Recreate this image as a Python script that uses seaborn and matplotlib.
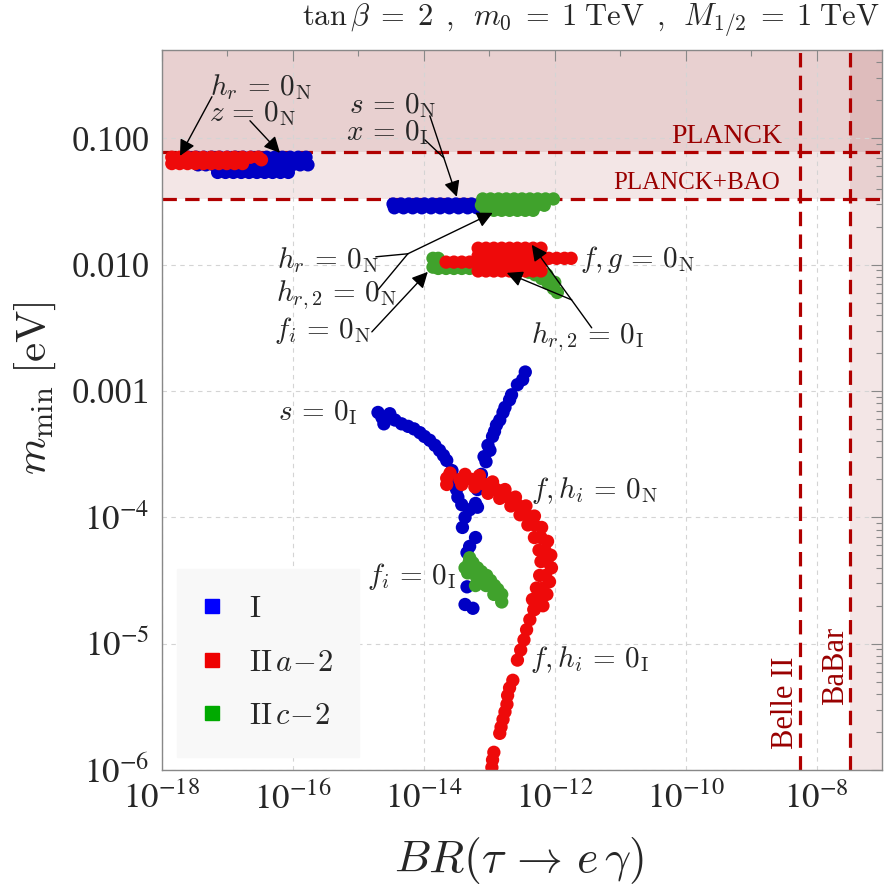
import numpy as np
import pandas as pd
import matplotlib
matplotlib.use("Agg")
import matplotlib.pyplot as plt
import seaborn as sns
from matplotlib.lines import Line2D
from matplotlib.ticker import FixedLocator, LogLocator, NullFormatter

sns.set_style("white")
plt.rcParams["font.family"] = ["Liberation Serif", "DejaVu Serif"]
plt.rcParams["mathtext.fontset"] = "stix"

# ---------------- data (log10 values) ----------------
# Model I (blue)
I_log_br = [
    # h_r / z = 0_N blob
    -17.60, -17.48, -17.36, -17.24, -17.12, -17.00, -16.88, -16.76, -16.64, -16.52, -16.40, -16.28, -16.16, -16.04, -15.92, -15.80,
    -17.45, -17.33, -17.21, -17.09, -16.97, -16.85, -16.73, -16.61, -16.49, -16.37, -16.25, -16.13, -16.01, -15.89, -15.77,
    -17.15, -17.03, -16.91, -16.79, -16.67, -16.55, -16.43, -16.31, -16.19, -16.07,
    # s = 0_N strip
    -14.47, -14.35, -14.23, -14.11, -13.99, -13.87, -13.75, -13.63, -13.51, -13.39, -13.27, -13.15,
    -14.45, -14.31, -14.17, -14.03, -13.89, -13.75, -13.61, -13.47, -13.33, -13.19,
    # s = 0_I arm
    -14.70, -14.64, -14.61, -14.52, -14.44, -14.34, -14.24, -14.15, -14.06, -13.99, -13.91, -13.83, -13.76, -13.70, -13.65, -13.57, -13.53, -13.50,
    -13.48, -13.42, -13.30, -13.18, -13.37, -13.41, -13.21, -13.30, -13.34, -13.34, -13.37, -13.25,
    # rising arm
    -12.45, -12.49, -12.57, -12.66, -12.69, -12.76, -12.79, -12.84, -12.89, -12.92, -12.95, -13.02, -12.99, -13.08, -13.05, -13.12, -13.18, -13.21,
]
I_log_m = [
    -1.15, -1.15, -1.15, -1.15, -1.15, -1.15, -1.15, -1.15, -1.15, -1.15, -1.15, -1.15, -1.15, -1.15, -1.15, -1.15,
    -1.21, -1.21, -1.21, -1.21, -1.21, -1.21, -1.21, -1.21, -1.21, -1.21, -1.21, -1.21, -1.21, -1.21, -1.21,
    -1.27, -1.27, -1.27, -1.27, -1.27, -1.27, -1.27, -1.27, -1.27, -1.27,
    -1.52, -1.52, -1.52, -1.52, -1.52, -1.52, -1.52, -1.52, -1.52, -1.52, -1.52, -1.52,
    -1.55, -1.55, -1.55, -1.55, -1.55, -1.55, -1.55, -1.55, -1.55, -1.55,
    -3.17, -3.21, -3.26, -3.18, -3.23, -3.26, -3.28, -3.30, -3.33, -3.36, -3.39, -3.43, -3.47, -3.51, -3.55, -3.63, -3.70, -3.78,
    -3.84, -3.90, -3.94, -3.92, -4.00, -4.08, -4.16, -4.23, -4.28, -4.55, -4.69, -4.72,
    -2.85, -2.91, -2.95, -3.03, -3.07, -3.13, -3.17, -3.23, -3.27, -3.32, -3.36, -3.43, -3.47, -3.52, -3.56, -3.66, -3.78, -3.89,
]

# Model II c-2 (green)
IIc_log_br = [
    -13.10, -12.98, -12.86, -12.74, -12.62, -12.50, -12.38, -12.26, -12.14, -12.02,
    -13.12, -13.00, -12.88, -12.76, -12.64, -12.52, -12.40, -12.28, -12.16,
    -13.05, -12.93, -12.81, -12.69, -12.57, -12.45, -12.33,
    -13.86, -13.86, -13.78, -13.78,
    -13.66, -13.54, -13.42, -13.30, -13.18, -13.06, -12.94, -12.82, -12.70, -12.58, -12.46,
    -12.40, -12.30, -12.20, -12.10, -12.02, -11.96, -12.25, -12.12, -12.00,
    -13.30, -13.31, -13.33, -13.37, -13.18, -13.19, -13.04, -13.05, -13.21, -12.92, -12.93, -12.81, -12.81,
    -13.25, -13.12, -12.98, -12.87,
]
IIc_log_m = [
    -1.48, -1.48, -1.48, -1.48, -1.48, -1.48, -1.48, -1.48, -1.48, -1.48,
    -1.53, -1.53, -1.53, -1.53, -1.53, -1.53, -1.53, -1.53, -1.53,
    -1.57, -1.57, -1.57, -1.57, -1.57, -1.57, -1.57,
    -1.95, -2.02, -1.95, -2.03,
    -2.03, -2.03, -2.03, -2.03, -2.03, -2.03, -2.03, -2.03, -2.03, -2.03, -2.03,
    -2.06, -2.08, -2.11, -2.15, -2.19, -2.22, -2.04, -2.08, -2.14,
    -4.32, -4.36, -4.44, -4.40, -4.40, -4.48, -4.46, -4.54, -4.54, -4.54, -4.61, -4.61, -4.67,
    -4.36, -4.43, -4.50, -4.57,
]

# Model II a-2 (red)
IIa_log_br = [
    -17.85, -17.73, -17.61, -17.49, -17.37, -17.25, -17.13, -17.01, -16.89, -16.77, -16.65, -16.53,
    -17.85, -17.73, -17.61, -17.49, -17.37, -17.25, -17.13, -17.01, -16.89, -16.77, -16.48,
    -13.66, -13.54, -13.42, -13.30,
    -13.17, -13.05, -12.93, -12.81, -12.69, -12.57, -12.45, -12.33, -12.21,
    -13.17, -13.05, -12.93, -12.81, -12.69, -12.57, -12.45, -12.33, -12.21,
    -13.17, -13.05, -12.93, -12.81, -12.69, -12.57, -12.45, -12.33, -12.21,
    -13.17, -13.05, -12.93, -12.81, -12.69, -12.57, -12.45, -12.33, -12.21,
    -12.09, -11.97, -11.85, -11.75,
    -13.65, -13.45, -13.27, -13.07, -12.89, -12.72, -12.57, -12.43, -12.31, -12.21, -12.15, -12.12, -12.14, -12.18, -12.24, -12.31,
    -13.60, -13.37, -13.15, -12.95, -12.76, -12.60, -12.44, -12.31, -12.20, -12.11, -12.06, -12.05, -12.08, -12.12, -12.18,
    -13.65, -13.42, -13.22, -13.02, -12.84, -12.67, -12.53, -12.41, -12.31, -12.24, -12.21, -12.23, -12.28, -12.34,
    -12.32, -12.38, -12.43, -12.47, -12.52, -12.57, -12.64, -12.69, -12.72, -12.73, -12.76, -12.79, -12.82, -12.84, -12.93, -12.95, -12.96,
]
IIa_log_m = [
    -1.15, -1.15, -1.15, -1.15, -1.15, -1.15, -1.15, -1.15, -1.15, -1.15, -1.15, -1.15,
    -1.20, -1.20, -1.20, -1.20, -1.20, -1.20, -1.20, -1.20, -1.20, -1.20, -1.17,
    -1.98, -1.98, -1.98, -1.98,
    -1.87, -1.87, -1.87, -1.87, -1.87, -1.87, -1.87, -1.87, -1.87,
    -1.93, -1.93, -1.93, -1.93, -1.93, -1.93, -1.93, -1.93, -1.93,
    -1.99, -1.99, -1.99, -1.99, -1.99, -1.99, -1.99, -1.99, -1.99,
    -2.05, -2.05, -2.05, -2.05, -2.05, -2.05, -2.05, -2.05, -2.05,
    -1.95, -1.95, -1.95, -1.95,
    -3.69, -3.70, -3.70, -3.74, -3.78, -3.84, -3.90, -3.98, -4.06, -4.16, -4.26, -4.35, -4.46, -4.56, -4.65, -4.73,
    -3.65, -3.66, -3.67, -3.72, -3.78, -3.84, -3.91, -3.99, -4.08, -4.19, -4.30, -4.40, -4.51, -4.61, -4.70,
    -3.74, -3.74, -3.76, -3.81, -3.85, -3.91, -3.98, -4.06, -4.16, -4.26, -4.35, -4.46, -4.56, -4.65,
    -4.73, -4.81, -4.89, -4.97, -5.05, -5.13, -5.29, -5.35, -5.41, -5.48, -5.54, -5.60, -5.66, -5.71, -5.86, -5.92, -5.98,
]

models = ["I", "II a-2", "II c-2"]
legend_labels = [r"$\mathrm{I}$", r"$\mathrm{II}\,a\!-\!2$", r"$\mathrm{II}\,c\!-\!2$"]
point_colors = {"I": "#0000C4", "II a-2": "#EE0A0A", "II c-2": "#40A22C"}
legend_colors = ["#0000FF", "#EE0000", "#00AA00"]

# experimental bounds
planck = 0.0785
planck_bao = 0.0332
belle2 = 5.5e-9
babar = 3.2e-8

xtick_vals = [1e-18, 1e-16, 1e-14, 1e-12, 1e-10, 1e-8]
xtick_labels = [r"$10^{-18}$", r"$10^{-16}$", r"$10^{-14}$", r"$10^{-12}$", r"$10^{-10}$", r"$10^{-8}$"]
ytick_vals = [1e-6, 1e-5, 1e-4, 1e-3, 1e-2, 1e-1]
ytick_labels = [r"$10^{-6}$", r"$10^{-5}$", r"$10^{-4}$", "0.001", "0.010", "0.100"]

# ---------------- table ----------------
frames = []
for name, lx, ly in [("I", I_log_br, I_log_m), ("II c-2", IIc_log_br, IIc_log_m), ("II a-2", IIa_log_br, IIa_log_m)]:
    frames.append(pd.DataFrame({"BR": np.power(10.0, np.array(lx)),
                                "mmin": np.power(10.0, np.array(ly)),
                                "model": name}))
df = pd.concat(frames, ignore_index=True)

# ---------------- figure ----------------
fig = plt.figure(figsize=(8.92, 8.92), dpi=100)
ax = fig.add_axes([162 / 892, 1 - 770 / 892, 720 / 892, 720 / 892])
ax.set_xscale("log")
ax.set_yscale("log")
ax.set_xlim(1e-18, 1e-7)
ax.set_ylim(1e-6, 0.5)

shade = (0.58, 0.12, 0.12)
ax.axhspan(planck_bao, 0.5, color=shade, alpha=0.11, lw=0, zorder=0.5)
ax.axhspan(planck, 0.5, color=shade, alpha=0.11, lw=0, zorder=0.5)
ax.axvspan(babar, 1e-7, color=shade, alpha=0.11, lw=0, zorder=0.5)

dash = (0, (4.5, 2.6))
lc = "#B00000"
for yv in (planck, planck_bao):
    ax.axhline(yv, color=lc, lw=2.3, ls=dash, zorder=1.5)
for xv in (belle2, babar):
    ax.axvline(xv, color=lc, lw=2.3, ls=dash, zorder=1.5)

sns.scatterplot(data=df, x="BR", y="mmin", hue="model", palette=point_colors,
                s=92, linewidth=0, legend=False, ax=ax, zorder=2.5)

# ticks
ax.xaxis.set_major_locator(FixedLocator(xtick_vals))
ax.set_xticklabels(xtick_labels)
ax.xaxis.set_minor_locator(FixedLocator([1e-17, 1e-15, 1e-13, 1e-11, 1e-9]))
ax.xaxis.set_minor_formatter(NullFormatter())
ax.yaxis.set_major_locator(FixedLocator(ytick_vals))
ax.set_yticklabels(ytick_labels)
ax.yaxis.set_minor_locator(LogLocator(base=10, subs=np.arange(2, 10)))
ax.yaxis.set_minor_formatter(NullFormatter())
ax.tick_params(which="both", direction="in", top=True, right=True, color="#888888", width=0.8)
ax.tick_params(which="major", length=8, labelsize=25, pad=9)
ax.tick_params(which="minor", length=4)

ax.grid(True, which="major", ls=(0, (4, 4)), color="#D4D4D4", lw=0.8, zorder=0.8)
for sp in ax.spines.values():
    sp.set_color("#888888")
    sp.set_linewidth(1.0)

# axis labels
ax.set_xlabel(r"$BR(\tau\, \to\, e\,\gamma)$", fontsize=33, math_fontfamily="cm")
ax.xaxis.set_label_coords(0.496, -0.125)
ax.xaxis.label.set_va("center")
ax.set_ylabel(r"$m_{\mathrm{min}}\;[\mathrm{eV}]$", fontsize=31, math_fontfamily="cm")
ax.yaxis.set_label_coords(-0.176, 0.53)
ax.yaxis.label.set_va("center")

fig.text(880 / 892, 1 - 20 / 892,
         r"$\tan\beta\;=\;2\enspace,\enspace m_0\;=\;1\;\mathrm{TeV}\enspace,\enspace M_{1/2}\;=\;1\;\mathrm{TeV}$",
         ha="right", va="center", fontsize=22, math_fontfamily="cm")

# bound labels
bc = "#990000"
ax.text(10**-8.52, 10**-0.988, "PLANCK", color=bc, fontsize=20, ha="right", va="center")
ax.text(10**-8.565, 10**-1.352, "PLANCK+BAO", color=bc, fontsize=18, ha="right", va="center")
ax.text(10**-8.47, 10**-5.47, "Belle II", color=bc, fontsize=22, ha="center", va="center", rotation=90)
ax.text(10**-7.71, 10**-5.18, "BaBar", color=bc, fontsize=22, ha="center", va="center", rotation=90)

# annotations
fs = 21
labels = [
    (-16.49, -0.592, r"$h_r\,=\,0_{\mathrm{N}}$"),
    (-16.61, -0.806, r"$z\,=\,0_{\mathrm{N}}$"),
    (-14.47, -0.740, r"$s\,=\,0_{\mathrm{N}}$"),
    (-14.55, -0.955, r"$x\,=\,0_{\mathrm{I}}$"),
    (-15.47, -1.962, r"$h_r\,=\,0_{\mathrm{N}}$"),
    (-15.33, -2.239, r"$h_{r,2}\,=\,0_{\mathrm{N}}$"),
    (-15.54, -2.524, r"$f_i\,=\,0_{\mathrm{N}}$"),
    (-10.73, -1.962, r"$f, g\,=\,0_{\mathrm{N}}$"),
    (-11.50, -2.572, r"$h_{r,2}\,=\,0_{\mathrm{I}}$"),
    (-15.62, -3.173, r"$s\,=\,0_{\mathrm{I}}$"),
    (-11.39, -3.791, r"$f, h_i\,=\,0_{\mathrm{N}}$"),
    (-14.18, -4.472, r"$f_i\,=\,0_{\mathrm{I}}$"),
    (-11.47, -5.129, r"$f, h_i\,=\,0_{\mathrm{I}}$"),
]
for lx, ly, s in labels:
    ax.text(10**lx, 10**ly, s, fontsize=fs, ha="center", va="center", math_fontfamily="cm", zorder=6)

arrows = [
    ((-17.237, -0.671), (-17.725, -1.139), True),
    ((-16.656, -0.861), (-16.198, -1.115), True),
    ((-13.908, -0.822), (-13.496, -1.463), True),
    ((-13.985, -1.012), (-13.695, -1.154), False),
    ((-14.733, -1.938), (-14.244, -1.914), False),
    ((-14.702, -2.200), (-14.244, -1.914), False),
    ((-14.244, -1.914), (-12.947, -1.590), True),
    ((-14.794, -2.532), (-13.939, -2.057), True),
    ((-11.435, -2.500), (-12.351, -1.843), True),
    ((-11.740, -2.279), (-12.733, -2.065), True),
]
for (sx, sy), (tx, ty), head in arrows:
    ax.annotate("", xy=(10**tx, 10**ty), xytext=(10**sx, 10**sy),
                arrowprops=dict(arrowstyle="-|>" if head else "-", color="black", lw=1.0,
                                mutation_scale=24, shrinkA=0, shrinkB=0),
                zorder=4)

# legend
handles = [Line2D([], [], marker="s", ls="", color=c, markersize=10) for c in legend_colors]
leg = ax.legend(handles, legend_labels, loc="lower left", bbox_to_anchor=(0.021, 0.018),
                fontsize=22, frameon=True, facecolor="#F8F8F8", edgecolor="#F8F8F8",
                framealpha=1.0, fancybox=False, borderpad=0.85, labelspacing=0.8,
                handlelength=0.6, handletextpad=0.9, borderaxespad=0)
for t in leg.get_texts():
    t.set_math_fontfamily("cm")
leg.set_zorder(5)

fig.savefig("out.png", dpi=100)
